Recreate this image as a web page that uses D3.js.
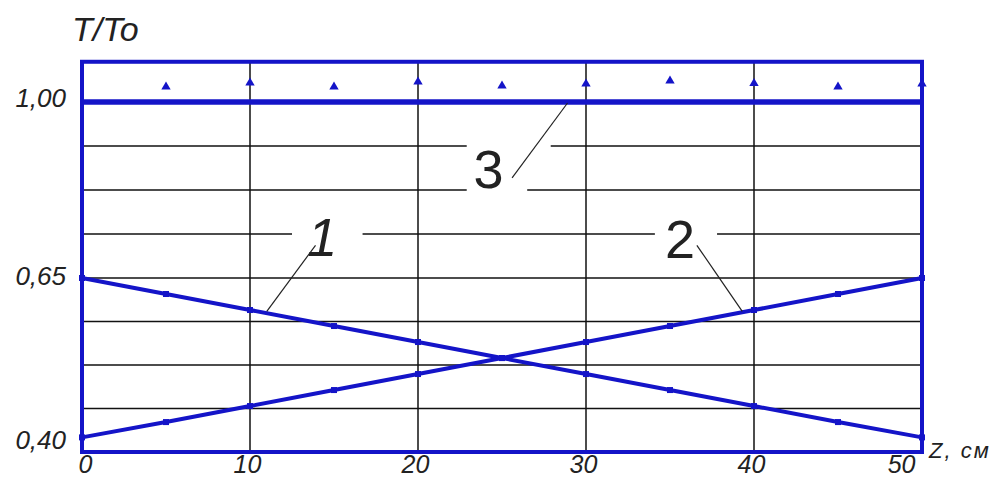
<!DOCTYPE html>
<html>
<head>
<meta charset="utf-8">
<script src="https://cdn.jsdelivr.net/npm/d3@7"></script>
<style>
  body { margin: 0; background: #fff; }
  text { font-family: "Liberation Sans", Arial, sans-serif; fill: #222; }
</style>
</head>
<body>
<svg id="chart" width="994" height="477"></svg>
<script>
// values
var zValues = [0, 5, 10, 15, 20, 25, 30, 35, 40, 45, 50]
var curve1 = [0.650, 0.627, 0.604, 0.581, 0.558, 0.535, 0.512, 0.489, 0.466, 0.443, 0.421]
var curve2 = [0.421, 0.443, 0.466, 0.489, 0.512, 0.535, 0.558, 0.581, 0.604, 0.627, 0.650]
var curve3 = [1.00, 1.00, 1.00, 1.00, 1.00, 1.00, 1.00, 1.00, 1.00, 1.00, 1.00]
var markZ = [5, 10, 15, 20, 25, 30, 35, 40, 45, 50]
var markVals = [1.030, 1.038, 1.030, 1.040, 1.032, 1.036, 1.042, 1.037, 1.030, 1.036]

var xTicks = [0, 10, 20, 30, 40, 50]
var yTicks = [0.40, 0.65, 1.00]
var xGrid = [10, 20, 30, 40]
var yGrid = [0.4625, 0.525, 0.5875, 0.65, 0.7375, 0.825, 0.9125, 1.00]
var yTop = 1.08

var blue = '#1414c8'

var svg = d3.select('#chart')

var x = d3.scaleLinear().domain([0, 50]).range([82, 922])
// the picture's grid is not even: upper and lower halves use different steps
var y = d3.scaleLinear().domain([0.40, 0.65, 1.00]).range([452, 278, 102])

// grid
svg.append('g').selectAll('line.v')
  .data(xGrid).enter().append('line')
  .attr('x1', d => x(d)).attr('x2', d => x(d))
  .attr('y1', y(yTop)).attr('y2', y(0.40))
  .style('stroke', '#111').style('stroke-width', 1.5)

svg.append('g').selectAll('line.h')
  .data(yGrid).enter().append('line')
  .attr('x1', x(0)).attr('x2', x(50))
  .attr('y1', d => y(d)).attr('y2', d => y(d))
  .style('stroke', '#111').style('stroke-width', 1.5)

// curve labels with their leaders; gaps cut into the grid round the labels
var notes = [
  {text: '1', z: 14.3, v: 0.694, italic: true, from: [13.9, 0.715], to: [11.0, 0.602], gaps: [[0.7375, 12.5, 16.7]]},
  {text: '2', z: 35.6, v: 0.690, italic: false, from: [36.6, 0.715], to: [39.3, 0.602], gaps: [[0.7375, 34.1, 37.8]]},
  {text: '3', z: 24.2, v: 0.828, italic: false, from: [25.6, 0.849], to: [28.9, 0.998], gaps: [[0.9125, 22.9, 27.9], [0.825, 22.9, 26.5]]}
]

notes.forEach(function(n){
  n.gaps.forEach(function(g){
    svg.append('rect')
      .attr('x', x(g[1])).attr('width', x(g[2]) - x(g[1]))
      .attr('y', y(g[0]) - 3).attr('height', 6)
      .style('fill', '#fff')
  })
})

// frame
svg.append('rect')
  .attr('x', x(0)).attr('y', y(yTop))
  .attr('width', x(50) - x(0)).attr('height', y(0.40) - y(yTop))
  .style('fill', 'none').style('stroke', blue).style('stroke-width', 4)

var line = d3.line()
  .x(function(d){ return x(d[0]) })
  .y(function(d){ return y(d[1]) })

var series = [
  {vals: curve3, w: 5.5},
  {vals: curve1, w: 4},
  {vals: curve2, w: 4}
]

series.forEach(function(s){
  var pts = zValues.map(function(z, i){ return [z, s.vals[i]] })
  svg.append('path')
    .attr('d', line(pts))
    .style('fill', 'none')
    .style('stroke', blue)
    .style('stroke-width', s.w)
})

// small point marks on curves 1 and 2
;[curve1, curve2].forEach(function(c){
  svg.append('g').selectAll('rect')
    .data(zValues.map(function(z, i){ return [z, c[i]] }))
    .enter().append('rect')
    .attr('x', d => x(d[0]) - 3).attr('y', d => y(d[1]) - 3)
    .attr('width', 6).attr('height', 6)
    .style('fill', blue)
})

// triangles above the 1,00 line
svg.append('g').selectAll('path')
  .data(markZ.map(function(z, i){ return [z, markVals[i]] }))
  .enter().append('path')
  .attr('d', d3.symbol(d3.symbolTriangle).size(38))
  .attr('transform', d => 'translate(' + x(d[0]) + ',' + y(d[1]) + ')')
  .style('fill', blue)

notes.forEach(function(n){
  svg.append('line')
    .attr('x1', x(n.from[0])).attr('y1', y(n.from[1]))
    .attr('x2', x(n.to[0])).attr('y2', y(n.to[1]))
    .style('stroke', '#222').style('stroke-width', 1.2)
  svg.append('text')
    .attr('x', x(n.z)).attr('y', y(n.v))
    .attr('text-anchor', 'middle')
    .style('font-size', '54px')
    .style('font-style', n.italic ? 'italic' : 'normal')
    .text(n.text)
})

// axes: labels only
var comma = function(d){ return d3.format('.2f')(d).replace('.', ',') }

var yAxis = svg.append('g')
  .attr('transform', 'translate(' + x(0) + ',0)')
  .call(d3.axisLeft(y).tickValues(yTicks).tickSize(0).tickPadding(16).tickFormat(comma))
yAxis.select('.domain').remove()
yAxis.selectAll('text')
  .attr('dy', null)
  .attr('y', d => d === 0.40 ? -4 : (d === 0.65 ? 6 : 4))
  .style('font-size', '26px').style('font-style', 'italic')
  .style('font-family', '"Liberation Sans", Arial, sans-serif').style('fill', '#222')

var xAxis = svg.append('g')
  .attr('transform', 'translate(0,' + y(0.40) + ')')
  .call(d3.axisBottom(x).tickValues(xTicks).tickSize(0).tickPadding(3).tickFormat(d3.format('d')))
xAxis.select('.domain').remove()
xAxis.selectAll('text')
  .attr('x', d => d === 0 ? -4 : (d === 50 ? -7 : -3))
  .attr('text-anchor', d => d === 0 ? 'start' : (d === 50 ? 'end' : 'middle'))
  .style('font-size', '25px').style('font-style', 'italic')
  .style('font-family', '"Liberation Sans", Arial, sans-serif').style('fill', '#222')

svg.append('text')
  .attr('x', 72).attr('y', 41)
  .style('font-size', '34px').style('font-style', 'italic')
  .text('T/To')

svg.append('text')
  .attr('x', 929).attr('y', 458)
  .style('font-size', '22px').style('font-style', 'italic')
  .style('letter-spacing', '2px')
  .text('Z, см')
</script>
</body>
</html>
